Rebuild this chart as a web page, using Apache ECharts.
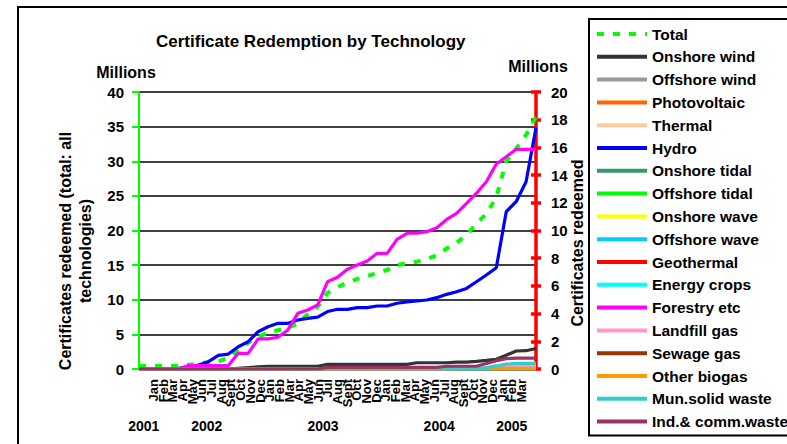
<!DOCTYPE html>
<html>
<head>
<meta charset="utf-8">
<script src="https://cdn.jsdelivr.net/npm/echarts@6/dist/echarts.min.js"></script>
<style>
    html, body { margin: 0; padding: 0; background: #fff; }
    #main { width: 787px; height: 444px; }
</style>
</head>
<body>
<div id="main"></div>
<script>
    // month labels: Dec 2001 .. Mar 2005 (+1 unlabelled slot at the end)
    var months = ['', 'Jan', 'Feb', 'Mar', 'Apr', 'May', 'Jun', 'Jul', 'Aug', 'Sept', 'Oct', 'Nov', 'Dec',
        'Jan', 'Feb', 'Mar', 'Apr', 'May', 'Jun', 'Jul', 'Aug', 'Sept', 'Oct', 'Nov', 'Dec',
        'Jan', 'Feb', 'Mar', 'Apr', 'May', 'Jun', 'Jul', 'Aug', 'Sept', 'Oct', 'Nov', 'Dec',
        'Jan', 'Feb', 'Mar', ''];
    var years = ['2001', '2002', '2003', '2004', '2005'];
    var monthsPerYear = [1, 12, 12, 12, 3];

    var leftTicks = [0, 40, 5];   // min, max, step (total, millions)
    var rightTicks = [0, 20, 2];  // min, max, step (per technology, millions)

    // series values, millions of certificates
    var total = [0.45, 0.45, 0.45, 0.45, 0.45, 0.6, 0.8, 1.0, 1.1, 1.6,
        2.8, 3.8, 4.6, 5.3, 5.6, 5.9, 6.6, 7.9, 9.0, 11.0,
        11.8, 12.5, 13.0, 13.4, 13.9, 14.3, 15.0, 15.3, 15.5, 15.9,
        16.4, 17.4, 18.2, 19.4, 21.0, 22.4, 24.8, 30.0, 31.8, 33.8, 36.4];
    var hydro = [0, 0, 0, 0, 0.05, 0.17, 0.29, 0.53, 0.99, 1.08,
        1.61, 1.97, 2.69, 3.05, 3.30, 3.30, 3.54, 3.66, 3.75, 4.15,
        4.31, 4.31, 4.43, 4.43, 4.55, 4.55, 4.75, 4.85, 4.91, 4.98,
        5.15, 5.39, 5.58, 5.82, 6.30, 6.79, 7.31, 11.36, 12.08, 13.52, 17.42];
    var forestry = [0, 0, 0, 0, 0, 0.25, 0.25, 0.25, 0.25, 0.25,
        1.13, 1.13, 2.17, 2.17, 2.29, 2.82, 4.02, 4.26, 4.62, 6.30,
        6.62, 7.2, 7.51, 7.80, 8.35, 8.35, 9.36, 9.80, 9.80, 9.91,
        10.2, 10.8, 11.24, 11.96, 12.69, 13.52, 14.8, 15.33, 15.86, 15.86, 15.86];
    var onshoreWind = [0, 0, 0, 0, 0, 0, 0, 0, 0, 0,
        0.05, 0.1, 0.15, 0.2, 0.2, 0.2, 0.2, 0.2, 0.2, 0.33,
        0.33, 0.33, 0.33, 0.33, 0.33, 0.33, 0.33, 0.33, 0.45, 0.45,
        0.45, 0.45, 0.5, 0.5, 0.55, 0.62, 0.7, 1.0, 1.3, 1.32, 1.48];
    var landfill = [0, 0, 0, 0, 0, 0, 0, 0, 0, 0,
        0, 0, 0, 0, 0, 0, 0, 0, 0, 0,
        0, 0, 0, 0, 0, 0, 0, 0, 0, 0,
        0, 0, 0, 0, 0.02, 0.05, 0.1, 0.15, 0.18, 0.18, 0.18];
    var otherBiogas = [0, 0, 0, 0, 0, 0, 0, 0, 0, 0,
        0, 0, 0, 0, 0, 0, 0, 0, 0, 0,
        0, 0, 0, 0, 0, 0, 0, 0, 0, 0,
        0, 0, 0.04, 0.04, 0.04, 0.04, 0.04, 0.04, 0.04, 0.04, 0.04];
    var munWaste = [0, 0, 0, 0, 0, 0, 0, 0, 0, 0,
        0, 0, 0, 0, 0, 0, 0, 0, 0, 0,
        0, 0, 0, 0, 0, 0, 0, 0, 0, 0,
        0, 0, 0, 0, 0.02, 0.1, 0.22, 0.35, 0.4, 0.4, 0.4];
    var indWaste = [0, 0, 0, 0, 0, 0, 0, 0, 0, 0,
        0, 0, 0, 0, 0, 0, 0, 0, 0, 0.12,
        0.12, 0.12, 0.12, 0.12, 0.12, 0.12, 0.12, 0.12, 0.12, 0.12,
        0.12, 0.2, 0.2, 0.2, 0.2, 0.4, 0.6, 0.75, 0.78, 0.78, 0.78];
    // technologies that read as zero all through
    var zeroLine = [0, 0, 0, 0, 0, 0, 0, 0, 0, 0,
        0, 0, 0, 0, 0, 0, 0, 0, 0, 0,
        0, 0, 0, 0, 0, 0, 0, 0, 0, 0,
        0, 0, 0, 0, 0, 0, 0, 0, 0, 0, 0];

    var techs = [
        { name: 'Onshore wind', color: '#333333', data: onshoreWind },
        { name: 'Offshore wind', color: '#999999', data: zeroLine },
        { name: 'Photovoltaic', color: '#ff6600', data: zeroLine },
        { name: 'Thermal', color: '#ffcc99', data: zeroLine },
        { name: 'Hydro', color: '#0000ff', data: hydro },
        { name: 'Onshore tidal', color: '#339966', data: zeroLine },
        { name: 'Offshore tidal', color: '#00ff00', data: zeroLine },
        { name: 'Onshore wave', color: '#ffff00', data: zeroLine },
        { name: 'Offshore wave', color: '#00ccff', data: zeroLine },
        { name: 'Geothermal', color: '#ff0000', data: zeroLine },
        { name: 'Energy crops', color: '#00ffff', data: zeroLine },
        { name: 'Forestry etc', color: '#ff00ff', data: forestry },
        { name: 'Landfill gas', color: '#ff99cc', data: landfill },
        { name: 'Sewage gas', color: '#993300', data: zeroLine },
        { name: 'Other biogas', color: '#ff9900', data: otherBiogas },
        { name: 'Mun.solid waste', color: '#33cccc', data: munWaste },
        { name: 'Ind.& comm.waste', color: '#993366', data: indWaste }
    ];

    var font = 'Arial, "Liberation Sans", sans-serif';

    // year group boundaries and centres on the month axis
    var yearBounds = [0], yearCentres = [];
    for (var i = 0; i < monthsPerYear.length; i++) {
        var start = yearBounds[yearBounds.length - 1];
        yearCentres.push(start + monthsPerYear[i] / 2);
        yearBounds.push(start + monthsPerYear[i]);
    }

    var series = [{
        name: 'Total',
        type: 'line',
        xAxisIndex: 2,
        yAxisIndex: 0,
        data: total,
        symbol: 'none',
        color: '#00ff00',
        lineStyle: { width: 4, type: [7, 9], color: '#00ff00' }
    }];
    techs.forEach(function(t) {
        series.push({
            name: t.name,
            type: 'line',
            xAxisIndex: 2,
            yAxisIndex: 1,
            data: t.data,
            symbol: 'none',
            color: t.color,
            lineStyle: { width: 3.2, color: t.color }
        });
    });

    var myChart = echarts.init(document.getElementById('main'), null, { renderer: 'svg' });
    var option = {
        animation: false,
        backgroundColor: '#fff',
        title: {
            text: 'Certificate Redemption by Technology',
            left: 156,
            top: 33,
            padding: 0,
            textStyle: { fontFamily: font, fontSize: 17, fontWeight: 'bold', color: '#000' }
        },
        legend: {
            data: ['Total'].concat(techs.map(function(t) { return t.name; })),
            orient: 'vertical',
            left: 589,
            top: 19,
            height: 420,
            padding: [6, 10, 5, 6],
            itemWidth: 50,
            itemHeight: 14,
            itemGap: 4.8,
            borderColor: '#000',
            borderWidth: 2,
            backgroundColor: '#fff',
            selectedMode: false,
            // line only, no marker in the middle
            itemStyle: { color: 'rgba(0,0,0,0)', borderWidth: 0, opacity: 0 },
            lineStyle: { width: 4 },
            textStyle: { fontFamily: font, fontSize: 15.5, fontWeight: 'bold', color: '#000', lineHeight: 18 }
        },
        grid: {
            left: 139,
            right: 251,
            top: 92,
            bottom: 75,
            containLabel: false,
            outerBoundsMode: 'none'
        },
        xAxis: [{
            // month labels + year separators
            type: 'category',
            position: 'bottom',
            data: months,
            boundaryGap: true,
            axisLine: { lineStyle: { color: '#000', width: 1.5 } },
            axisTick: {
                length: 70,
                interval: function(index) { return yearBounds.indexOf(index) >= 0; },
                lineStyle: { color: '#b4f0b4', width: 1 }
            },
            axisLabel: {
                interval: 0,
                rotate: 90,
                margin: 10,
                fontFamily: font,
                fontSize: 13,
                fontWeight: 'bold',
                color: '#000'
            },
            splitLine: { show: false }
        }, {
            // year labels
            type: 'value',
            position: 'bottom',
            offset: 50,
            min: 0,
            max: months.length,
            interval: 0.5,
            axisLine: { show: false },
            axisTick: { show: false },
            splitLine: { show: false },
            axisLabel: {
                margin: 0,
                fontFamily: font,
                fontSize: 14,
                fontWeight: 'bold',
                color: '#000',
                formatter: function(v) {
                    for (var k = 0; k < yearCentres.length; k++) {
                        if (Math.abs(v - yearCentres[k]) < 0.01) return years[k];
                    }
                    return '';
                }
            }
        }, {
            // the lines run on the ticks
            type: 'category',
            position: 'bottom',
            data: months,
            boundaryGap: false,
            show: false
        }],
        yAxis: [{
            type: 'value',
            position: 'left',
            min: leftTicks[0],
            max: leftTicks[1],
            interval: leftTicks[2],
            axisLine: { show: true, lineStyle: { color: '#00ff00', width: 2 } },
            axisTick: { show: true, length: 7, lineStyle: { color: '#00ff00', width: 2 } },
            axisLabel: { margin: 15, fontFamily: font, fontSize: 15, fontWeight: 'bold', color: '#000' },
            splitLine: { show: true, lineStyle: { color: '#000', width: 1.6 } }
        }, {
            type: 'value',
            position: 'right',
            min: rightTicks[0],
            max: rightTicks[1],
            interval: rightTicks[2],
            axisLine: { show: true, lineStyle: { color: '#ff0000', width: 3.5 } },
            axisTick: { show: true, length: 5, lineStyle: { color: '#ff0000', width: 3.5 } },
            axisLabel: { margin: 15, fontFamily: font, fontSize: 15, fontWeight: 'bold', color: '#000' },
            splitLine: { show: false }
        }, {
            // inner half of the red cross ticks
            type: 'value',
            position: 'right',
            min: rightTicks[0],
            max: rightTicks[1],
            interval: rightTicks[2],
            axisLine: { show: false },
            axisTick: { show: true, inside: true, length: 5, lineStyle: { color: '#ff0000', width: 3.5 } },
            axisLabel: { show: false },
            splitLine: { show: false }
        }],
        graphic: [{
            type: 'rect',
            z: -10,
            shape: { x: 18, y: 7, width: 800, height: 460 },
            style: { fill: 'none', stroke: '#000', lineWidth: 2 }
        }, {
            type: 'text',
            x: 126, y: 72,
            style: { text: 'Millions', font: 'bold 16px ' + font, fill: '#000', align: 'center', verticalAlign: 'middle' }
        }, {
            type: 'text',
            x: 538, y: 66,
            style: { text: 'Millions', font: 'bold 16px ' + font, fill: '#000', align: 'center', verticalAlign: 'middle' }
        }, {
            type: 'text',
            x: 75, y: 251,
            rotation: Math.PI / 2,
            style: {
                text: 'Certificates redeemed (total: all\ntechnologies)',
                font: 'bold 16px ' + font, lineHeight: 20, fill: '#000',
                align: 'center', verticalAlign: 'middle'
            }
        }, {
            type: 'text',
            x: 577, y: 243,
            rotation: Math.PI / 2,
            style: { text: 'Certificates redeemed', font: 'bold 16px ' + font, fill: '#000', align: 'center', verticalAlign: 'middle' }
        }],
        series: series
    };
    myChart.setOption(option);
</script>
</body>
</html>
